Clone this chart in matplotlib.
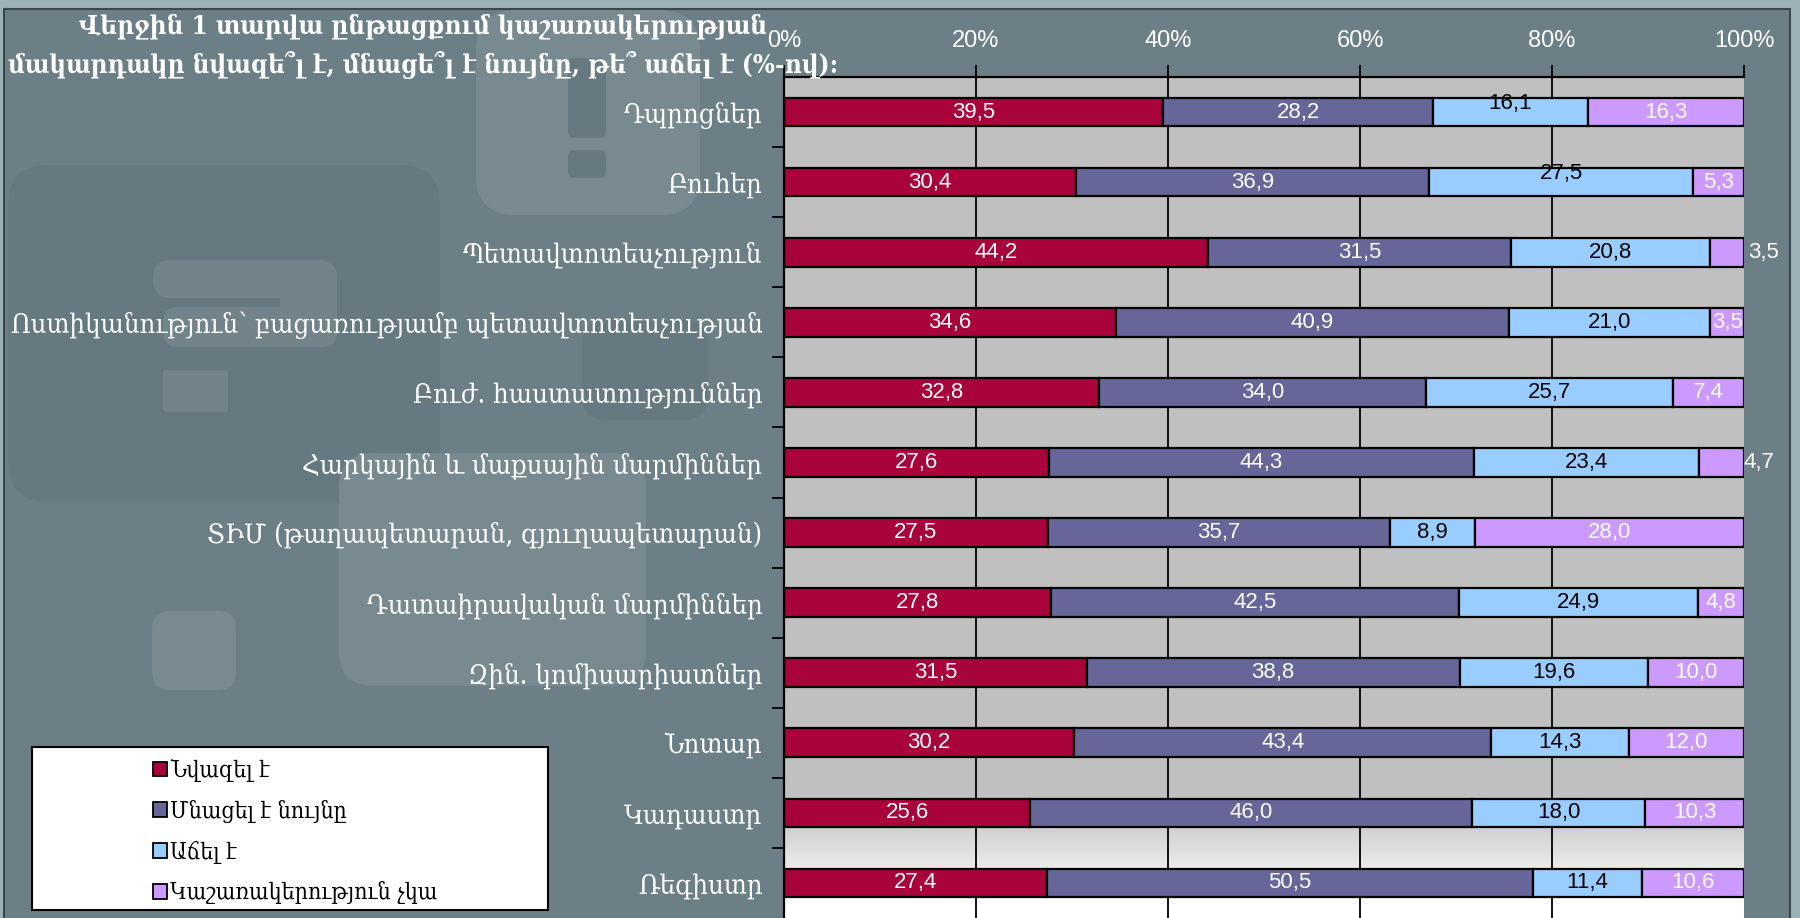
import matplotlib
matplotlib.use("Agg")
import matplotlib.pyplot as plt
import numpy as np
from matplotlib.patches import Rectangle, FancyBboxPatch, Patch
from matplotlib.font_manager import FontProperties

plt.rcParams['font.family'] = ['Liberation Sans', 'DejaVu Sans']

# ---------------- data ----------------
categories = [
    "Դպրոցներ",
    "Բուհեր",
    "Պետավտոտեսչություն",
    "Ոստիկանություն՝ բացառությամբ պետավտոտեսչության",
    "Բուժ. հաստատություններ",
    "Հարկային և մաքսային մարմիններ",
    "ՏԻՄ (թաղապետարան, գյուղապետարան)",
    "Դատաիրավական մարմիններ",
    "Զին. կոմիսարիատներ",
    "Նոտար",
    "Կադաստր",
    "Ռեգիստր",
]
decreased = [39.5, 30.4, 44.2, 34.6, 32.8, 27.6, 27.5, 27.8, 31.5, 30.2, 25.6, 27.4]
same = [28.2, 36.9, 31.5, 40.9, 34.0, 44.3, 35.7, 42.5, 38.8, 43.4, 46.0, 50.5]
increased = [16.1, 27.5, 20.8, 21.0, 25.7, 23.4, 8.9, 24.9, 19.6, 14.3, 18.0, 11.4]
no_corruption = [16.3, 5.3, 3.5, 3.5, 7.4, 4.7, 28.0, 4.8, 10.0, 12.0, 10.3, 10.6]
series_names = ["Նվազել է", "Մնացել է նույնը", "Աճել է", "Կաշառակերություն չկա"]
x_ticks = [0, 20, 40, 60, 80, 100]
x_tick_labels = ["0%", "20%", "40%", "60%", "80%", "100%"]
title_lines = ["Վերջին 1 տարվա ընթացքում կաշառակերության",
               "մակարդակը նվազե՞լ է, մնացե՞լ է նույնը, թե՞ աճել է (%-ով):"]

# ---------------- style ----------------
series_colors = ["#A8033A", "#666699", "#99CCFF", "#CC99FF"]
label_colors = ["white", "white", "black", "white"]
# per-label nudges in pixels (row, series) -> (dx, dy)
label_nudges = {(0, 2): (0, 9), (1, 2): (0, 9), (2, 3): (36, 0), (5, 3): (37, 0)}

W, H = 1800, 918
fig = plt.figure(figsize=(W / 100, H / 100), dpi=100)
fig.patch.set_facecolor("#9DB1B9")

serif = dict(family="DejaVu Serif", stretch="condensed")

# background decoration (pixel coordinates)
bg = fig.add_axes([0, 0, 1, 1], zorder=0)
bg.set_xlim(0, W)
bg.set_ylim(H, 0)
bg.axis("off")
bg.add_patch(Rectangle((4, 9), 1786, H, facecolor="#6D7F86",
                       edgecolor="#3A474D", linewidth=1.5))

def rrect(x0, y0, x1, y1, color, r=30):
    bg.add_patch(FancyBboxPatch((x0, y0), x1 - x0, y1 - y0,
                                boxstyle=f"round,pad=0,rounding_size={r}",
                                facecolor=color, edgecolor="none"))

light, dark, qcol = "#78898F", "#667880", "#72838A"
rrect(8, 165, 440, 502, dark, 40)
rrect(476, 10, 700, 215, light, 40)
rrect(568, 58, 606, 138, dark, 6)
rrect(568, 150, 606, 178, dark, 6)
rrect(339, 453, 646, 686, light, 35)
rrect(152, 611, 236, 690, light, 18)
rrect(582, 320, 708, 420, dark, 25)
# question-mark shape
rrect(153, 260, 337, 298, qcol, 18)
rrect(280, 260, 337, 347, qcol, 18)
rrect(163, 307, 337, 347, qcol, 15)
rrect(163, 370, 228, 412, qcol, 4)

# legend box
bg.add_patch(Rectangle((32, 747), 516, 163, facecolor="white",
                       edgecolor="black", linewidth=1.5, zorder=3))

# ---------------- main chart ----------------
ax = fig.add_axes([784 / W, 0, 960 / W, 841 / H], zorder=2)
ax.set_xlim(0, 100)
ax.set_ylim(len(categories) - 0.5, -0.5)
ax.patch.set_alpha(0)

# plot-area gradient: grey to white near the bottom
ys = np.linspace(-0.5, len(categories) - 0.5, 600)
t = np.clip((ys - 9.9) / (11.2 - 9.9), 0, 1)
g = 0.753 + (1.0 - 0.753) * t
grad = np.repeat(g[:, None], 3, axis=1)[:, None, :]
ax.imshow(grad, extent=(0, 100, len(categories) - 0.5, -0.5), aspect="auto",
          zorder=0, interpolation="bilinear")

for xv in x_ticks[1:-1]:
    ax.axvline(xv, color="black", linewidth=1.3, zorder=1)

series = [decreased, same, increased, no_corruption]
data = np.array(series, dtype=float)
totals = data.sum(axis=0)
shares = data / totals * 100
y = np.arange(len(categories))
left = np.zeros(len(categories))
for s in range(len(series)):
    ax.barh(y, shares[s], left=left, height=0.41, color=series_colors[s],
            edgecolor="black", linewidth=1.6, zorder=3)
    for i in range(len(categories)):
        dx, dy = label_nudges.get((i, s), (0, 0))
        txt = f"{series[s][i]:.1f}".replace(".", ",")
        ax.annotate(txt, xy=(left[i] + shares[s][i] / 2, i), xytext=(dx, dy),
                    textcoords="offset pixels", ha="center", va="center",
                    color=label_colors[s], fontsize=16, zorder=5,
                    annotation_clip=False)
    left += shares[s]

# axes styling
for sp in ["right", "bottom"]:
    ax.spines[sp].set_visible(False)
for sp in ["top", "left"]:
    ax.spines[sp].set_color("black")
    ax.spines[sp].set_linewidth(1.6)
    ax.spines[sp].set_zorder(4)

ax.xaxis.set_ticks_position("top")
ax.set_xticks(x_ticks)
ax.set_xticklabels(x_tick_labels)
ax.tick_params(axis="x", which="major", top=True, bottom=False, labeltop=True,
               labelbottom=False, length=9, width=1.3, color="black",
               labelcolor="white", labelsize=17, pad=9, direction="out")

ax.set_yticks(y)
ax.set_yticklabels(categories, fontproperties=FontProperties(size=19.7, **serif))
ax.set_yticks(np.arange(0.5, len(categories) - 0.5, 1), minor=True)
ax.tick_params(axis="y", which="major", length=0, pad=15.5, labelcolor="white")
ax.tick_params(axis="y", which="minor", length=9, width=1.3, color="black",
               direction="out")

# title (two centred lines)
tprops = FontProperties(size=18.6, weight="bold", **serif)
fig.text(423 / W, 1 - 27 / H, title_lines[0], ha="center", va="center",
         color="white", fontproperties=tprops, zorder=6)
fig.text(423 / W, 1 - 65 / H, title_lines[1], ha="center", va="center",
         color="white", fontproperties=tprops, zorder=6)

# legend
handles = [Patch(facecolor=c, edgecolor="black", linewidth=1.3) for c in series_colors]
fig.legend(handles, series_names, loc="upper left",
           bbox_to_anchor=(153 / W, 1 - 759 / H), frameon=False,
           prop=FontProperties(size=16.6, **serif), handlelength=0.6,
           handleheight=0.6, handletextpad=0.15, labelspacing=0.77,
           labelcolor="black", borderaxespad=0, borderpad=0)

fig.savefig("out.png", dpi=100, facecolor=fig.get_facecolor())
